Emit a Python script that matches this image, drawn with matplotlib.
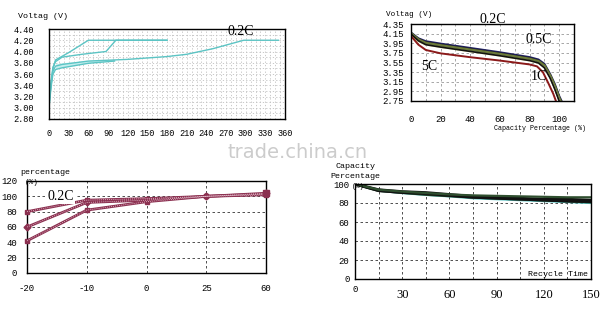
import numpy as np
import matplotlib
matplotlib.use("Agg")
import matplotlib.pyplot as plt
import matplotlib.transforms as mtransforms

# ---- charge curves (top left) ----
charge_a_x = [0, 3, 6, 10, 30, 60, 120, 180]
charge_a_y = [3.05, 3.40, 3.70, 3.85, 3.98, 4.20, 4.20, 4.20]
charge_b_x = [0, 3, 6, 10, 20, 50, 87, 102, 140, 180]
charge_b_y = [3.10, 3.45, 3.72, 3.82, 3.90, 3.95, 4.00, 4.20, 4.20, 4.20]
charge_c_x = [0, 3, 6, 10, 20, 60, 120, 180, 210, 250, 297, 350]
charge_c_y = [3.05, 3.40, 3.65, 3.74, 3.77, 3.83, 3.86, 3.91, 3.95, 4.05, 4.20, 4.20]
charge_d_x = [0, 3, 6, 10, 20, 60, 100]
charge_d_y = [3.00, 3.35, 3.60, 3.68, 3.71, 3.79, 3.83]
charge_xticks = [0, 30, 60, 90, 120, 150, 180, 210, 240, 270, 300, 330, 360]
charge_yticks = [2.80, 3.00, 3.20, 3.40, 3.60, 3.80, 4.00, 4.20, 4.40]

# ---- discharge curves (top right) ----
dis_x = [0, 5, 10, 20, 40, 60, 80, 86, 90, 94, 97, 100, 102]
dis_02c = [4.17, 4.05, 3.99, 3.94, 3.85, 3.76, 3.66, 3.61, 3.52, 3.30, 3.10, 2.85, 2.72]
dis_05c = [4.16, 4.04, 3.97, 3.92, 3.83, 3.74, 3.64, 3.59, 3.50, 3.28, 3.08, 2.83, 2.70]
dis_mid = [4.15, 4.02, 3.95, 3.90, 3.81, 3.72, 3.62, 3.57, 3.48, 3.26, 3.05, 2.80, 2.67]
dis_1c = [4.14, 4.00, 3.92, 3.87, 3.78, 3.69, 3.59, 3.54, 3.44, 3.22, 3.00, 2.75, 2.62]
dis_5c_x = [0, 5, 10, 20, 40, 60, 80, 85, 89, 93, 96, 99]
dis_5c = [4.10, 3.92, 3.81, 3.74, 3.66, 3.59, 3.51, 3.47, 3.35, 3.10, 2.90, 2.65]

# ---- temperature (bottom left) ----
temps = ["-20", "-10", "0", "25", "60"]
temp_hi = [80, 95, 97, 100, 103]
temp_mid = [60, 92, 95, 100, 104]
temp_lo = [42, 82, 93, 100, 102]

# ---- cycle life (bottom right) ----
cycles = [0, 15, 30, 45, 60, 75, 90, 105, 120, 135, 150]
cyc_1 = [100, 94, 92, 90.5, 89, 88, 87.5, 87, 86.5, 86, 86]
cyc_2 = [100, 94, 92, 91, 89, 87, 86, 85, 84, 84, 83]
cyc_3 = [100, 93, 91, 90, 88, 86, 85, 84, 83, 82, 81.5]
cyc_4 = [100, 93, 91, 89, 87.5, 86, 85, 84, 83, 82, 81]
cyc_5 = [100, 93, 90.5, 88.5, 87, 85, 84, 83, 82, 81, 80]
cycle_ticks = [0, 30, 60, 90, 120, 150]

W, H = 600, 320
fig = plt.figure(figsize=(6, 3.2), dpi=100)
fig.patch.set_facecolor("white")

mono = "Liberation Mono"
serif = "Liberation Serif"


def box(l, t, r, b):
    return [l / W, 1 - b / H, (r - l) / W, (b - t) / H]


def style(ax, grid_color, dash, size=6.5):
    for s in ax.spines.values():
        s.set_color("black")
        s.set_linewidth(1.0)
    ax.tick_params(which="both", length=0, labelsize=size)
    for lab in ax.get_xticklabels() + ax.get_yticklabels():
        lab.set_family(mono)
    ax.grid(True, which="both", color=grid_color, linestyle=(0, dash), linewidth=0.6)
    ax.set_axisbelow(True)


# top left: charge
ax1 = fig.add_axes(box(49, 29, 285, 119))
teal = "#5cc4c4"
ax1.fill_between([10, 20, 60, 100], [3.70, 3.72, 3.80, 3.84], [3.78, 3.80, 3.84, 3.86],
                 color="#c4eeee", lw=0)
for xs, ys in [(charge_a_x, charge_a_y), (charge_b_x, charge_b_y),
               (charge_c_x, charge_c_y), (charge_d_x, charge_d_y)]:
    ax1.plot(xs, ys, color=teal, lw=1.0)
ax1.set_xlim(0, 360)
ax1.set_ylim(2.80, 4.40)
ax1.set_xticks(charge_xticks)
ax1.set_yticks(charge_yticks)
ax1.set_yticklabels(["%.2f" % v for v in charge_yticks])
ax1.set_xticks(np.arange(0, 361, 7.5), minor=True)
ax1.set_yticks(np.arange(2.8, 4.41, 0.1), minor=True)
ax1.tick_params(axis="x", pad=7)
ax1.tick_params(axis="y", pad=11)
style(ax1, "#c0c0c0", (1.5, 2.5), size=6.2)
ax1.text(272, 4.29, "0.2C", family=serif, fontsize=10)
fig.text(18 / W, 1 - 17 / H, "Voltag (V)", family=mono, fontsize=6, va="center")

# top right: discharge
ax2 = fig.add_axes(box(411, 24, 574, 101))
ax2.plot(dis_x, dis_02c, color="#1e1e5c", lw=1.6)
ax2.plot(dis_x, dis_05c, color="#111111", lw=1.2)
ax2.plot(dis_x, dis_mid, color="#6b7a3a", lw=2.2)
ax2.plot(dis_x, [v - 0.035 for v in dis_mid], color="#e6e6a0", lw=1.0)
ax2.plot(dis_x, dis_1c, color="#111111", lw=1.2)
ax2.plot(dis_5c_x, dis_5c, color="#8b1a1a", lw=1.4)
ax2.set_xlim(0, 110)
ax2.set_ylim(2.75, 4.35)
ax2.set_xticks([0, 20, 40, 60, 80, 100])
ax2.set_xticks(np.arange(0, 111, 10), minor=True)
yt2 = [2.75, 2.95, 3.15, 3.35, 3.55, 3.75, 3.95, 4.15, 4.35]
ax2.set_yticks(yt2)
ax2.set_yticklabels(["%.2f" % v for v in yt2])
ax2.tick_params(axis="x", pad=10)
ax2.tick_params(axis="y", pad=5)
style(ax2, "#999999", (3, 3))
ax2.grid(False, axis="y", which="minor")
ax2.text(55, 4.45, "0.2C", family=serif, fontsize=10, ha="center", va="center", clip_on=False)
ax2.text(86, 4.02, "0.5C", family=serif, fontsize=10, ha="center", va="center")
ax2.text(12, 3.47, "5C", family=serif, fontsize=10, ha="center", va="center")
ax2.text(86, 3.25, "1C", family=serif, fontsize=10, ha="center", va="center")
fig.text(386 / W, 1 - 14 / H, "Voltag (V)", family=mono, fontsize=5.5, va="center")
fig.text(494 / W, 1 - 128 / H, "Capacity Percentage (%)", family=mono, fontsize=4.8,
         va="center")

# bottom left: temperature
ax3 = fig.add_axes(box(27, 181, 266, 273))
pos = np.arange(len(temps))
maroon = "#8b3050"
for vals, mk in [(temp_hi, "s"), (temp_mid, "D"), (temp_lo, "s")]:
    ax3.plot(pos, vals, color=maroon, lw=2.0, marker=mk, ms=3.5, clip_on=False, zorder=3)
    ax3.plot(pos, vals, color="#f0d0dc", lw=0.6, ls=(0, (1, 1.5)), zorder=4)
ax3.plot(pos[-1], 104, marker="s", color=maroon, ms=5, clip_on=False, zorder=5)
ax3.set_xlim(0, 4)
ax3.set_ylim(0, 120)
ax3.set_xticks(pos)
ax3.set_xticklabels(temps)
ax3.set_yticks(np.arange(0, 121, 20))
ax3.tick_params(axis="x", pad=8)
ax3.tick_params(axis="y", pad=7)
style(ax3, "#333333", (3, 3))
ax3.text(0.35, 100, "0.2C", family=serif, fontsize=10, va="center",
         bbox=dict(facecolor="white", edgecolor="none", pad=0.5), zorder=6)
fig.text(20 / W, 1 - 172 / H, "percentage", family=mono, fontsize=6, va="center")
fig.text(25 / W, 1 - 183 / H, "(%)", family=mono, fontsize=5.5, va="center")

# bottom right: cycle life
ax4 = fig.add_axes(box(355, 184, 591, 279))
ax4.plot(cycles, cyc_5, color="#5cc4c4", lw=1.6)
ax4.plot(cycles, cyc_4, color="#1e3a1e", lw=2.0)
ax4.plot(cycles, cyc_3, color="#111111", lw=2.0)
ax4.plot(cycles, cyc_2, color="#111111", lw=2.0)
ax4.plot(cycles, cyc_1, color="#2f4f2f", lw=1.6)
ax4.set_xlim(0, 150)
ax4.set_ylim(0, 100)
ax4.set_xticks(cycle_ticks)
ax4.set_xticklabels(["0"] + [""] * (len(cycle_ticks) - 1))
ax4.set_xticks(np.arange(0, 151, 15), minor=True)
ax4.set_yticks(np.arange(0, 101, 20))
ax4.tick_params(axis="y", pad=4)
ax4.tick_params(axis="x", pad=4)
style(ax4, "#333333", (3, 3))
trans4 = mtransforms.blended_transform_factory(ax4.transData, ax4.transAxes)
for c in cycle_ticks[1:]:
    ax4.text(c, -0.17, str(c), transform=trans4, family=serif, fontsize=9,
             ha="center", va="center")
ax4.text(148, 5, "Recycle Time", family=mono, fontsize=6, ha="right", va="center")
fig.text(335 / W, 1 - 166 / H, "Capacity", family=mono, fontsize=6, va="center")
fig.text(330 / W, 1 - 177 / H, "Percentage", family=mono, fontsize=6, va="center")
fig.text(352 / W, 1 - 186 / H, "(%)", family=mono, fontsize=5, va="center")

# watermark
fig.text(298 / W, 1 - 152 / H, "trade.china.cn", fontsize=14, color="#cccccc",
         ha="center", va="center")

fig.savefig("out.png", dpi=100, facecolor="white")
